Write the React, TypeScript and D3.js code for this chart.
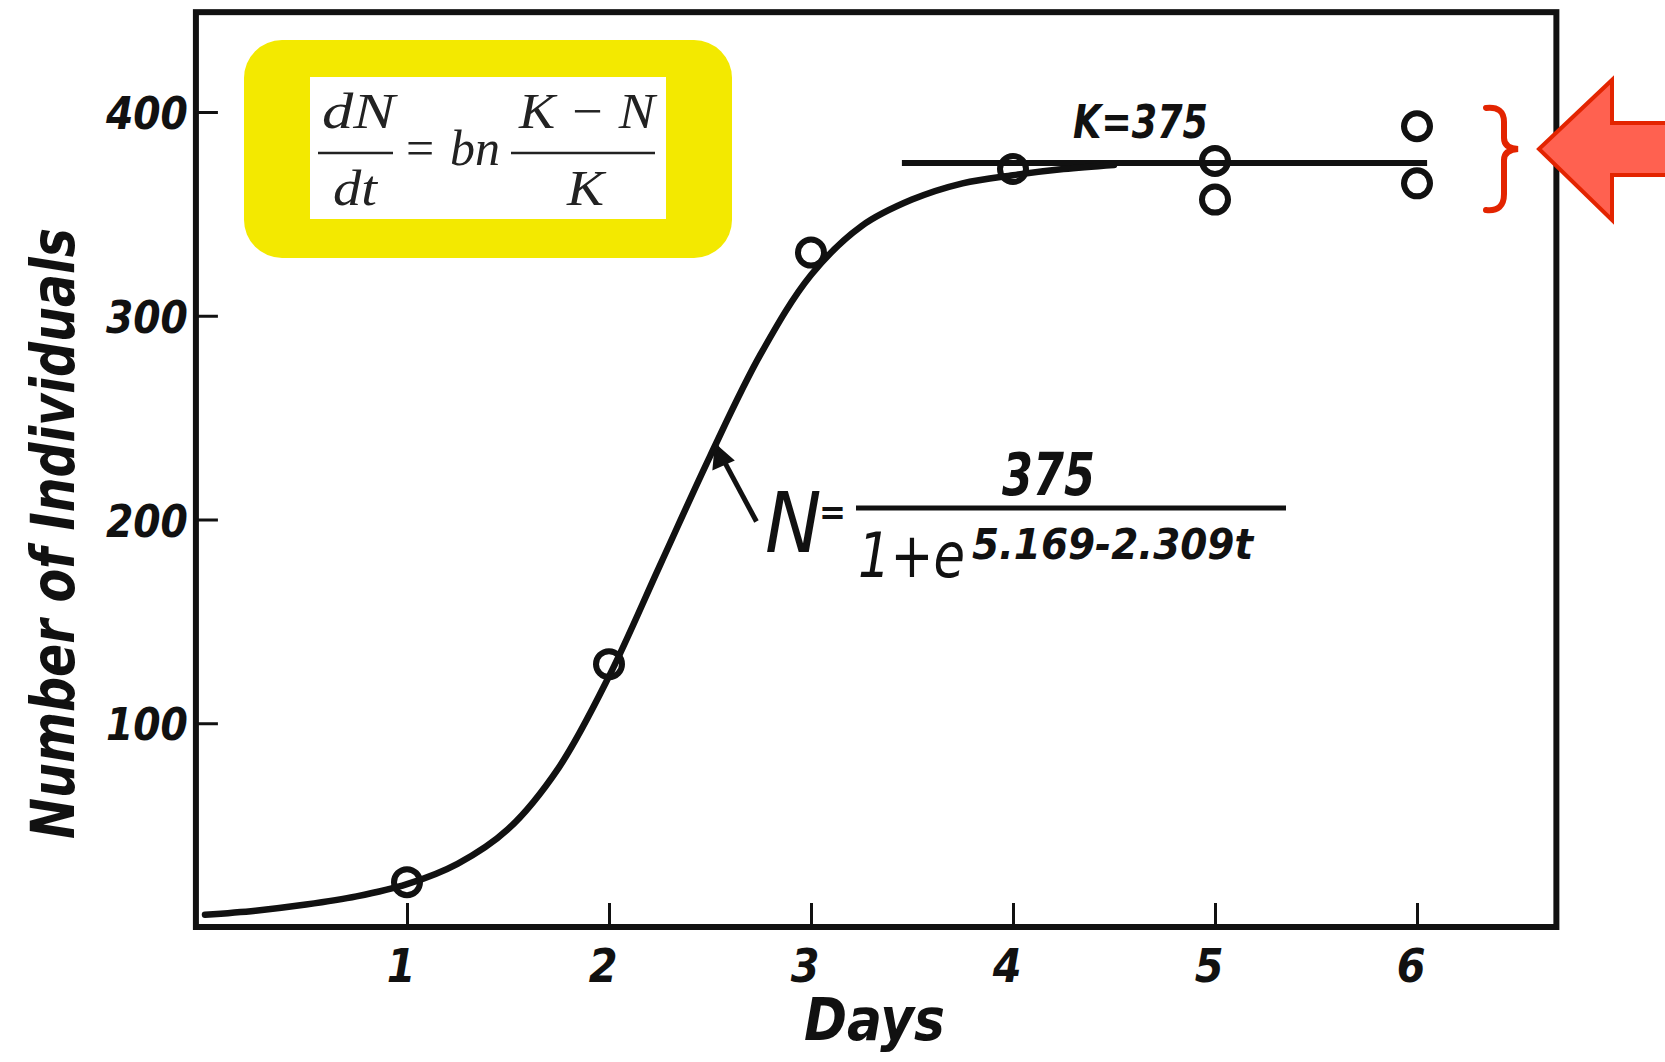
import React, { useEffect, useRef } from 'react';
import { select, scaleLinear, axisBottom, axisLeft, line, curveCatmullRom } from 'd3';

// days on the x axis and count ticks on the y axis
const dayTicks = [1, 2, 3, 4, 5, 6];
const countTicks = [100, 200, 300, 400];

// observed yeast counts (open circles)
const obsDays = [1, 2, 3, 4, 5, 5, 6, 6];
const obsCounts = [22, 129, 331, 372, 376, 357, 393, 365];

// fitted logistic curve
const fitDays = [0, 0.25, 0.5, 0.75, 1, 1.25, 1.5, 1.75, 2, 2.25, 2.5, 2.75, 3, 3.25, 3.5, 3.75, 4, 4.25, 4.5];
const fitCounts = [6, 8, 11, 15, 21, 31, 48, 78, 123, 177, 231, 281, 320, 344, 357, 365, 369, 372, 374];

// carrying capacity line
const K = 375;
const kDays = [3.45, 6.05];

const hand = "'Liberation Sans Narrow', 'DejaVu Sans Condensed', 'Liberation Sans', sans-serif";
const serif = "'Liberation Serif', 'DejaVu Serif', serif";

const App = () => {
    const ref = useRef<SVGSVGElement>(null);

    useEffect(() => {
        const svg = select(ref.current);
        svg.selectAll("*").remove();

        const x = scaleLinear().domain([0, 6]).range([205, 1417]);
        const y = scaleLinear().domain([0, 400]).range([927, 112]);

        // frame
        svg.append("rect")
            .attr("x", x(-0.045))
            .attr("y", y(449))
            .attr("width", x(6.69) - x(-0.045))
            .attr("height", y(0) - y(449))
            .attr("fill", "white")
            .attr("stroke", "#111")
            .attr("stroke-width", 6);

        // axes, ticks pointing inward
        const gx = svg.append("g")
            .attr("transform", `translate(0, ${y(0)})`)
            .call(axisBottom(x).tickValues(dayTicks).tickSize(-24).tickPadding(22).tickFormat((d) => String(d)));
        gx.select(".domain").remove();
        gx.selectAll("line").attr("stroke", "#111").attr("stroke-width", 3);
        gx.selectAll("text")
            .attr("dx", "-0.14em")
            .attr("fill", "#111")
            .style("font-family", hand)
            .style("font-style", "italic")
            .style("font-weight", "bold")
            .style("font-size", "46px");

        const gy = svg.append("g")
            .attr("transform", `translate(${x(-0.045)}, 0)`)
            .call(axisLeft(y).tickValues(countTicks).tickSize(-22).tickPadding(8).tickFormat((d) => String(d)));
        gy.select(".domain").remove();
        gy.selectAll("line").attr("stroke", "#111").attr("stroke-width", 3);
        gy.selectAll("text")
            .attr("dy", "0.38em")
            .attr("fill", "#111")
            .attr("textLength", 82)
            .attr("lengthAdjust", "spacingAndGlyphs")
            .style("font-family", hand)
            .style("font-style", "italic")
            .style("font-weight", "bold")
            .style("font-size", "44px");

        // axis titles
        svg.append("text")
            .attr("transform", "translate(74, 839) rotate(-90)")
            .attr("textLength", 611)
            .attr("lengthAdjust", "spacingAndGlyphs")
            .attr("fill", "#111")
            .style("font-family", hand)
            .style("font-style", "italic")
            .style("font-weight", "bold")
            .style("font-size", "60px")
            .text("Number of Individuals");

        svg.append("text")
            .attr("x", 804)
            .attr("y", 1040)
            .attr("textLength", 141)
            .attr("lengthAdjust", "spacingAndGlyphs")
            .attr("fill", "#111")
            .style("font-family", hand)
            .style("font-style", "italic")
            .style("font-weight", "bold")
            .style("font-size", "58px")
            .text("Days");

        // K line
        svg.append("line")
            .attr("x1", x(kDays[0]))
            .attr("x2", x(kDays[1]))
            .attr("y1", y(K))
            .attr("y2", y(K))
            .attr("stroke", "#111")
            .attr("stroke-width", 6);

        // fitted curve
        const fit = fitDays.map((d, i) => [d, fitCounts[i]] as [number, number]);
        svg.append("path")
            .datum(fit)
            .attr("d", line<[number, number]>().x((d) => x(d[0])).y((d) => y(d[1])).curve(curveCatmullRom))
            .attr("fill", "none")
            .attr("stroke", "#111")
            .attr("stroke-width", 6.5)
            .attr("stroke-linecap", "round");

        // observed points
        svg.append("g")
            .selectAll("circle")
            .data(obsDays.map((d, i) => ({ day: d, n: obsCounts[i] })))
            .enter()
            .append("circle")
            .attr("cx", (d) => x(d.day))
            .attr("cy", (d) => y(d.n))
            .attr("r", 13)
            .attr("fill", "none")
            .attr("stroke", "#111")
            .attr("stroke-width", 6);

        // K label
        svg.append("text")
            .attr("x", 1073)
            .attr("y", 138)
            .attr("textLength", 135)
            .attr("lengthAdjust", "spacingAndGlyphs")
            .attr("fill", "#111")
            .style("font-family", hand)
            .style("font-style", "italic")
            .style("font-weight", "bold")
            .style("font-size", "46px")
            .text("K=375");

        // arrow to the curve
        svg.append("line")
            .attr("x1", x(2.73)).attr("y1", y(199))
            .attr("x2", x(2.53)).attr("y2", y(236))
            .attr("stroke", "#111").attr("stroke-width", 5);
        svg.append("path")
            .attr("d", `M${x(2.53)},${y(236)} l-2,22 l18,-8 z`)
            .attr("fill", "#111")
            .attr("stroke", "#111")
            .attr("stroke-width", 3);

        // fitted formula
        const ann = svg.append("g")
            .attr("fill", "#111")
            .style("font-family", hand)
            .style("font-style", "italic")
            .style("font-weight", "bold");
        ann.append("text").attr("x", 765).attr("y", 552).style("font-size", "84px").style("font-weight", "normal").text("N");
        ann.append("text").attr("x", 819).attr("y", 524).attr("textLength", 27).attr("lengthAdjust", "spacingAndGlyphs").style("font-size", "34px").text("=");
        ann.append("line").attr("x1", 856).attr("x2", 1286).attr("y1", 508).attr("y2", 508).attr("stroke", "#111").attr("stroke-width", 5);
        ann.append("text").attr("x", 1002).attr("y", 495).attr("textLength", 93).attr("lengthAdjust", "spacingAndGlyphs").style("font-size", "58px").text("375");
        ann.append("text").attr("x", 858).attr("y", 577).attr("textLength", 107).attr("lengthAdjust", "spacingAndGlyphs").style("font-size", "62px").style("font-weight", "normal").text("1+e");
        ann.append("text").attr("x", 972).attr("y", 559).attr("textLength", 281).attr("lengthAdjust", "spacingAndGlyphs").style("font-size", "42px").text("5.169-2.309t");

        // yellow box with the logistic equation
        svg.append("rect")
            .attr("x", 244).attr("y", 40).attr("width", 488).attr("height", 218).attr("rx", 38)
            .attr("fill", "#f3e900");
        svg.append("rect")
            .attr("x", 310).attr("y", 77).attr("width", 356).attr("height", 142)
            .attr("fill", "white");
        const eq = svg.append("g")
            .attr("fill", "#222")
            .style("font-family", serif)
            .style("font-style", "italic")
            .style("font-size", "50px");
        eq.append("text").attr("x", 322).attr("y", 128).attr("textLength", 73).attr("lengthAdjust", "spacingAndGlyphs").text("dN");
        eq.append("line").attr("x1", 318).attr("x2", 393).attr("y1", 153).attr("y2", 153).attr("stroke", "#222").attr("stroke-width", 2.5);
        eq.append("text").attr("x", 333).attr("y", 205).attr("textLength", 44).attr("lengthAdjust", "spacingAndGlyphs").text("dt");
        eq.append("text").attr("x", 420).attr("y", 165).attr("text-anchor", "middle").style("font-style", "normal").text("=");
        eq.append("text").attr("x", 450).attr("y", 165).attr("textLength", 50).attr("lengthAdjust", "spacingAndGlyphs").text("bn");
        eq.append("line").attr("x1", 511).attr("x2", 655).attr("y1", 153).attr("y2", 153).attr("stroke", "#222").attr("stroke-width", 2.5);
        eq.append("text").attr("x", 519).attr("y", 128).attr("textLength", 136).attr("lengthAdjust", "spacingAndGlyphs").text("K \u2212 N");
        eq.append("text").attr("x", 567).attr("y", 205).attr("textLength", 37).attr("lengthAdjust", "spacingAndGlyphs").text("K");

        // red brace and arrow
        svg.append("path")
            .attr("d", "M1486,108 Q1504,106 1504,122 L1504,138 Q1504,148 1518,149 Q1504,150 1504,160 L1504,194 Q1504,212 1486,210")
            .attr("fill", "none")
            .attr("stroke", "#e32400")
            .attr("stroke-width", 6)
            .attr("stroke-linecap", "round");
        svg.append("path")
            .attr("d", "M1539,149 L1612,80 L1612,123 L1680,123 L1680,175 L1612,175 L1612,220 Z")
            .attr("fill", "#ff6150")
            .attr("stroke", "#e32400")
            .attr("stroke-width", 4)
            .attr("stroke-linejoin", "miter");
    }, []);

    return (
        <div style={{ position: "absolute", left: 0, top: 0 }}>
            <svg ref={ref} width="1665" height="1062" style={{ display: "block", background: "white" }}></svg>
        </div>
    );
};

export default App;
